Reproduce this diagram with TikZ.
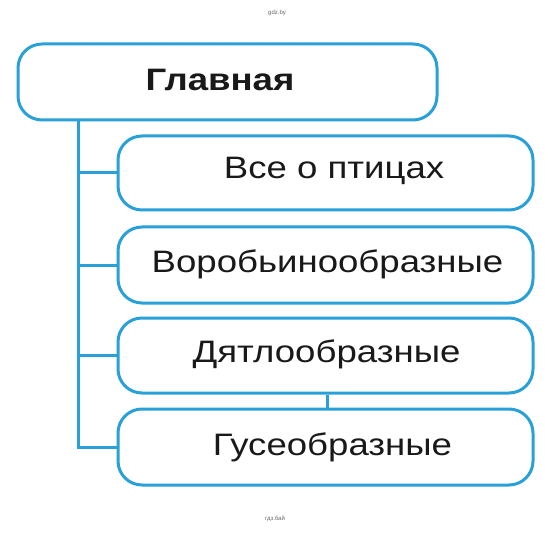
\documentclass[tikz,border=0pt]{standalone}
\usepackage{fontspec}
\setmainfont{Liberation Sans}
\newfontfamily\widefont[FakeStretch=1.18]{Liberation Sans}
\definecolor{lineblue}{RGB}{42,160,216}
\begin{document}
\begin{tikzpicture}[x=1pt,y=-1pt,
  box/.style={draw=lineblue,line width=3pt,rounded corners=24pt,inner sep=0pt},
  conn/.style={draw=lineblue,line width=3pt},
  lbl/.style={font=\widefont\fontsize{31}{31}\selectfont,text=black!90},
  tiny/.style={font=\fontsize{6}{6}\selectfont,text=black!60}]
\useasboundingbox (0,0) rectangle (553,534);
\node[box,minimum width=419pt,minimum height=76pt] (main) at (227.5,82) {};
\node[lbl,font=\widefont\fontsize{31}{31}\selectfont\bfseries] (maint) at (220,80) {Главная};
\node[box,minimum width=415pt,minimum height=74pt] (b1) at (325.5,173) {};
\node[lbl] (t1) at (334,171) {Все о птицах};
\node[box,minimum width=415pt,minimum height=76pt] (b2) at (325.5,265) {};
\node[lbl] (t2) at (327.5,264) {Воробьинообразные};
\node[box,minimum width=415pt,minimum height=75pt] (b3) at (325.5,355.5) {};
\node[lbl] (t3) at (326.5,354) {Дятлообразные};
\node[box,minimum width=415pt,minimum height=76pt] (b4) at (325.5,447) {};
\node[lbl] (t4) at (332.5,447) {Гусеобразные};
\coordinate (top) at (78,120);
\coordinate (bot) at (78,447);
\draw[conn] (top) -- (bot) -- (b4.west);
\draw[conn] (78,173) -- (b1.west);
\draw[conn] (78,265) -- (b2.west);
\draw[conn] (78,355.5) -- (b3.west);
\draw[conn] (b3.south -| 327,0) -- (b4.north -| 327,0);
\node[tiny] (w1) at (277,13) {gdz.by};
\node[tiny] (w2) at (275,519) {гдз.бай};
\end{tikzpicture}
\end{document}
